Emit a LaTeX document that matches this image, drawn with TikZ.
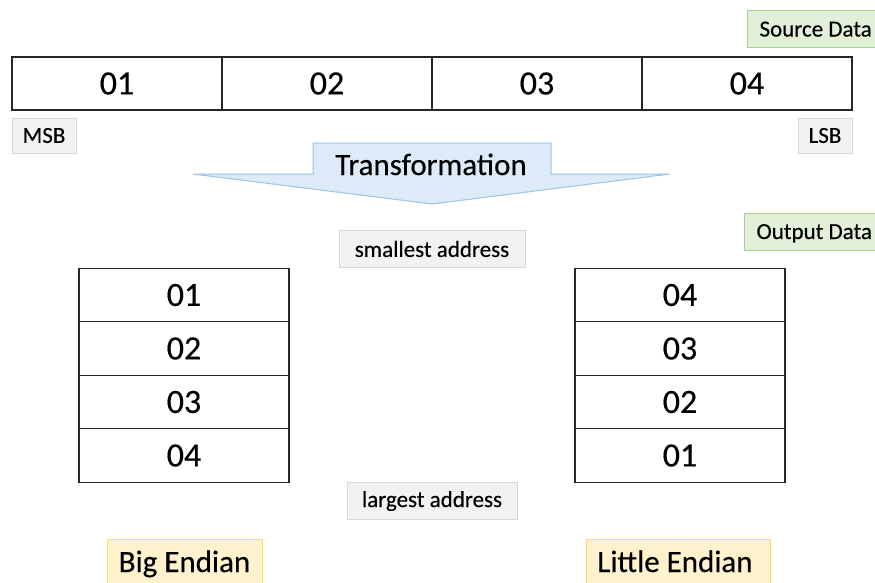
\documentclass[tikz,border=0pt]{standalone}
\usepackage{fontspec}
\setmainfont{Carlito}[FakeBold=0.3]
\definecolor{grnfill}{HTML}{E2F0D9}
\definecolor{grnline}{HTML}{A9D18E}
\definecolor{gryfill}{HTML}{F2F2F2}
\definecolor{gryline}{HTML}{D6D6D6}
\definecolor{yelfill}{HTML}{FFF2CC}
\definecolor{yelline}{HTML}{FFD966}
\definecolor{blufill}{HTML}{DDEAF7}
\definecolor{bluline}{HTML}{9DC3E6}
\tikzset{
  cell/.style={draw=black!85, line width=1.1pt, fill=white, inner sep=0pt, minimum width=210pt, minimum height=53.5pt, font=\fontsize{34}{38}\selectfont},
  srccell/.style={cell, minimum width=210pt, minimum height=53pt},
  graylbl/.style={draw=gryline, fill=gryfill, line width=0.8pt, inner sep=0pt, font=\fontsize{23}{27}\selectfont},
  greenlbl/.style={draw=grnline, fill=grnfill, line width=0.8pt, inner sep=0pt},
  yellbl/.style={draw=yelline, fill=yelfill, line width=0.8pt, inner sep=0pt},
  bigtxt/.style={font=\fontsize{31}{35}\selectfont, anchor=base},
  smalltxt/.style={font=\fontsize{23}{27}\selectfont, anchor=base west},
}
\begin{document}
\begin{tikzpicture}[x=1pt,y=-1pt]
\useasboundingbox (0,0) rectangle (875,582);
% source data label
\draw[greenlbl] (747,10) rectangle (890,47);
\node[smalltxt] (srclbl) at (756,36.5) {Source Data};
% top row
\node[srccell] (s1) at (117,83.5) {01};
\node[srccell] (s2) at (327,83.5) {02};
\node[srccell] (s3) at (537,83.5) {03};
\node[srccell] (s4) at (747,83.5) {04};
% MSB LSB
\node[graylbl, minimum width=64pt, minimum height=35pt] (msb) at (44,135.5) {MSB};
\node[graylbl, minimum width=54pt, minimum height=35pt] (lsb) at (825,135.5) {LSB};
% arrow
\draw[draw=bluline, fill=blufill, line width=1pt]
  (313,143) -- (551,143) -- (551,174) -- (670,174) -- (432,204) -- (193,174) -- (313,174) -- cycle;
\node[bigtxt] (trans) at (431,175) {Transformation};
% output data label
\draw[greenlbl] (744,213) rectangle (890,250);
\node[smalltxt] (outlbl) at (753,239) {Output Data};
% address labels
\node[graylbl, minimum width=186pt, minimum height=37pt] (small) at (432,249) {smallest address};
\node[graylbl, minimum width=170pt, minimum height=37pt] (large) at (432,501) {largest address};
% big endian stack
\node[cell] (b1) at (184,295) {01};
\node[cell] (b2) at (184,348.5) {02};
\node[cell] (b3) at (184,402) {03};
\node[cell] (b4) at (184,455.5) {04};
% little endian stack
\node[cell] (l1) at (680,295) {04};
\node[cell] (l2) at (680,348.5) {03};
\node[cell] (l3) at (680,402) {02};
\node[cell] (l4) at (680,455.5) {01};
% endian labels
\draw[yellbl] (107,539) rectangle (262,600);
\node[bigtxt] (big) at (184.5,572) {Big Endian};
\draw[yellbl] (586,539) rectangle (770,600);
\node[bigtxt] (little) at (675,572) {Little Endian};
\end{tikzpicture}
\end{document}
